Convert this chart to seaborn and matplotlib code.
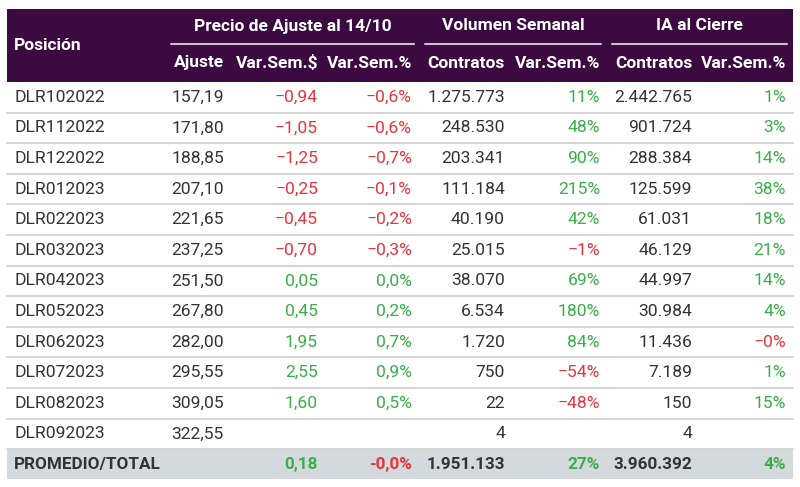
import numpy as np
import matplotlib
matplotlib.use('Agg')
import matplotlib.pyplot as plt
import seaborn as sns

sns.set_theme(style='white')
plt.rcParams['font.family'] = ['Roboto', 'DejaVu Sans']

# datos de la tabla
posicion = ['DLR102022', 'DLR112022', 'DLR122022', 'DLR012023', 'DLR022023', 'DLR032023',
            'DLR042023', 'DLR052023', 'DLR062023', 'DLR072023', 'DLR082023', 'DLR092023']
ajuste = [157.19, 171.80, 188.85, 207.10, 221.65, 237.25, 251.50, 267.80, 282.00, 295.55, 309.05, 322.55]
var_sem_usd = [-0.94, -1.05, -1.25, -0.25, -0.45, -0.70, 0.05, 0.45, 1.95, 2.55, 1.60, None]
var_sem_pct = [-0.6, -0.6, -0.7, -0.1, -0.2, -0.3, 0.0, 0.2, 0.7, 0.9, 0.5, None]
volumen = [1275773, 248530, 203341, 111184, 40190, 25015, 38070, 6534, 1720, 750, 22, 4]
volumen_var = [11, 48, 90, 215, 42, -1, 69, 180, 84, -54, -48, None]
ia = [2442765, 901724, 288384, 125599, 61031, 46129, 44997, 30984, 11436, 7189, 150, 4]
ia_var = [1, 3, 14, 38, 18, 21, 14, 4, -0.0, 1, 15, None]

total_label = 'PROMEDIO/TOTAL'
total_var_usd = 0.18
total_var_pct = -0.0
total_volumen = 1951133
total_volumen_var = 27
total_ia = 3960392
total_ia_var = 4

grupos = ['Precio de Ajuste al 14/10', 'Volumen Semanal', 'IA al Cierre']
subcols = ['Ajuste', 'Var.Sem.$', 'Var.Sem.%', 'Contratos', 'Var.Sem.%', 'Contratos', 'Var.Sem.%']

PURPLE = '#3b0a40'
RED = '#e8343f'
GREEN = '#3aae49'
TXT = '#333333'


def fmt_num(v, dec=0):
    s = f'{abs(v):,.{dec}f}'
    s = s.replace(',', 'X').replace('.', ',').replace('X', '.')
    return ('\u2212' if np.signbit(v) else '') + s


def color_of(v):
    return RED if np.signbit(v) else GREEN


fig = plt.figure(figsize=(8, 4.87), dpi=100)
ax = fig.add_axes([0, 0, 1, 1])
ax.set_xlim(0, 800)
ax.set_ylim(487, 0)
ax.axis('off')

x0, x1 = 7, 793
head_top, head_bot = 9, 82
row_h = 30.6
col_right = [224, 318, 412, 505, 600, 692, 786]
fs = 12.6
fsh = 12.5

# cabecera
ax.add_patch(plt.Rectangle((x0, head_top), x1 - x0, head_bot - head_top, color=PURPLE, lw=0))
ax.text(14, (head_top + head_bot) / 2, 'Posición', color='white', fontsize=fsh, fontweight='bold',
        va='center', ha='left')
spans = [(171, 414), (425, 601), (612, 787)]
for g, (a, b) in zip(grupos, spans):
    ax.text((a + b) / 2, 26, g, color='white', fontsize=fsh, fontweight='bold', ha='center', va='center')
    ax.plot([a, b], [44, 44], color='#c9bfcc', lw=1.5)
for c, xr in zip(subcols, col_right):
    ax.text(xr, 63, c, color='white', fontsize=fsh, fontweight='bold', ha='right', va='center')

# filas
for i, pos in enumerate(posicion):
    yc = head_bot + row_h * (i + 0.5)
    ax.text(14, yc, pos, color=TXT, fontsize=fs, ha='left', va='center')
    ax.text(col_right[0], yc, fmt_num(ajuste[i], 2), color=TXT, fontsize=fs, ha='right', va='center')
    if var_sem_usd[i] is not None:
        ax.text(col_right[1], yc, fmt_num(var_sem_usd[i], 2), color=color_of(var_sem_usd[i]),
                fontsize=fs, ha='right', va='center')
    if var_sem_pct[i] is not None:
        ax.text(col_right[2], yc, fmt_num(var_sem_pct[i], 1) + '%', color=color_of(var_sem_pct[i]),
                fontsize=fs, ha='right', va='center')
    ax.text(col_right[3], yc, fmt_num(volumen[i]), color=TXT, fontsize=fs, ha='right', va='center')
    if volumen_var[i] is not None:
        ax.text(col_right[4], yc, fmt_num(volumen_var[i]) + '%', color=color_of(volumen_var[i]),
                fontsize=fs, ha='right', va='center')
    ax.text(col_right[5], yc, fmt_num(ia[i]), color=TXT, fontsize=fs, ha='right', va='center')
    if ia_var[i] is not None:
        ax.text(col_right[6], yc, fmt_num(ia_var[i]) + '%', color=color_of(ia_var[i]),
                fontsize=fs, ha='right', va='center')
    yb = head_bot + row_h * (i + 1)
    ax.plot([x0, x1], [yb, yb], color='#d6d6d6', lw=1.5)

# fila total
n = len(posicion)
yt0 = head_bot + row_h * n
ax.add_patch(plt.Rectangle((x0, yt0), x1 - x0, row_h - 1, color='#d3d9dd', lw=0))
yc = yt0 + row_h / 2
ax.text(14, yc, total_label, color=TXT, fontsize=fs - 0.3, fontweight='bold', ha='left', va='center')
vals = [(1, fmt_num(total_var_usd, 2).replace('\u2212', '-'), color_of(total_var_usd)),
        (2, fmt_num(total_var_pct, 1).replace('\u2212', '-') + '%', color_of(total_var_pct)),
        (3, fmt_num(total_volumen), TXT),
        (4, fmt_num(total_volumen_var) + '%', color_of(total_volumen_var)),
        (5, fmt_num(total_ia), TXT),
        (6, fmt_num(total_ia_var) + '%', color_of(total_ia_var))]
for k, s, c in vals:
    ax.text(col_right[k], yc, s, color=c, fontsize=fs - 0.3, fontweight='bold', ha='right', va='center')

fig.savefig('out.png', dpi=100, facecolor='white')
